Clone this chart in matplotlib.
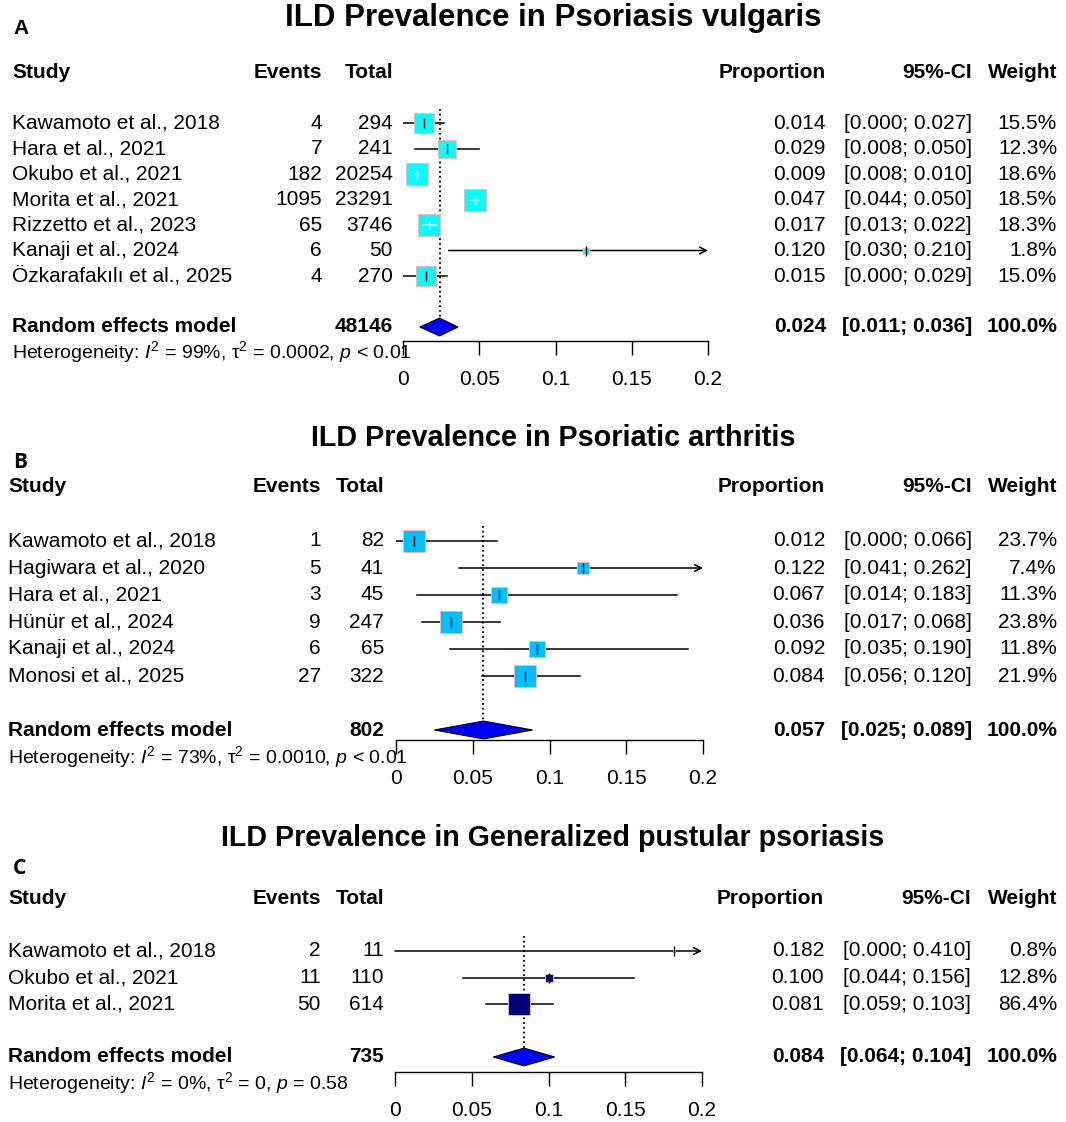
import matplotlib
matplotlib.use("Agg")
import matplotlib.pyplot as plt
import matplotlib.transforms as mtransforms
from matplotlib.patches import Polygon

plt.rcParams['font.family'] = ['Liberation Sans', 'DejaVu Sans']
plt.rcParams['mathtext.fontset'] = 'custom'
plt.rcParams['mathtext.rm'] = 'Liberation Sans'
plt.rcParams['mathtext.it'] = 'Liberation Sans:italic'
plt.rcParams['mathtext.bf'] = 'Liberation Sans:bold'

W, H = 1066, 1122

# ---- data ----
studies_a = ["Kawamoto et al., 2018", "Hara et al., 2021", "Okubo et al., 2021",
             "Morita et al., 2021", "Rizzetto et al., 2023", "Kanaji et al., 2024",
             "Özkarafakılı et al., 2025"]
events_a = [4, 7, 182, 1095, 65, 6, 4]
total_a = [294, 241, 20254, 23291, 3746, 50, 270]
prop_a = [0.014, 0.029, 0.009, 0.047, 0.017, 0.120, 0.015]
lower_a = [0.000, 0.008, 0.008, 0.044, 0.013, 0.030, 0.000]
upper_a = [0.027, 0.050, 0.010, 0.050, 0.022, 0.210, 0.029]
weight_a = [15.5, 12.3, 18.6, 18.5, 18.3, 1.8, 15.0]
pooled_a = (48146, 0.024, 0.011, 0.036)
het_a = ("99%", "0.0002", "< 0.01")

studies_b = ["Kawamoto et al., 2018", "Hagiwara et al., 2020", "Hara et al., 2021",
             "Hünür et al., 2024", "Kanaji et al., 2024", "Monosi et al., 2025"]
events_b = [1, 5, 3, 9, 6, 27]
total_b = [82, 41, 45, 247, 65, 322]
prop_b = [0.012, 0.122, 0.067, 0.036, 0.092, 0.084]
lower_b = [0.000, 0.041, 0.014, 0.017, 0.035, 0.056]
upper_b = [0.066, 0.262, 0.183, 0.068, 0.190, 0.120]
weight_b = [23.7, 7.4, 11.3, 23.8, 11.8, 21.9]
pooled_b = (802, 0.057, 0.025, 0.089)
het_b = ("73%", "0.0010", "< 0.01")

studies_c = ["Kawamoto et al., 2018", "Okubo et al., 2021", "Morita et al., 2021"]
events_c = [2, 11, 50]
total_c = [11, 110, 614]
prop_c = [0.182, 0.100, 0.081]
lower_c = [0.000, 0.044, 0.059]
upper_c = [0.410, 0.156, 0.103]
weight_c = [0.8, 12.8, 86.4]
pooled_c = (735, 0.084, 0.064, 0.104)
het_c = ("0%", "0", "= 0.58")

titles = ["ILD Prevalence in Psoriasis vulgaris",
          "ILD Prevalence in Psoriatic arthritis",
          "ILD Prevalence in Generalized pustular psoriasis"]
panel_labels = ["A", "B", "C"]
ticks = [0, 0.05, 0.1, 0.15, 0.2]
tick_labels = ["0", "0.05", "0.1", "0.15", "0.2"]

# ---- layout (pixels) ----
layouts = [
    dict(title_y=18, title_fs=22.5, label_y=28, label_font='Liberation Sans',
         row0=123, sp=25.5, axis_y=341, x0=403, x1=708,
         study_x=12, events_r=322, total_r=393, prop_r=826, ci_r=972, w_r=1057,
         color='#00FFFF'),
    dict(title_y=438, title_fs=20.7, label_y=463, label_font='Open Sans',
         row0=541, sp=27, axis_y=740, x0=396, x1=703,
         study_x=8, events_r=321, total_r=384, prop_r=825, ci_r=972, w_r=1057,
         color='#00BFFF'),
    dict(title_y=838, title_fs=20.6, label_y=868, label_font='Open Sans',
         row0=951, sp=26.5, axis_y=1072, x0=395, x1=702,
         study_x=8, events_r=321, total_r=384, prop_r=824, ci_r=971, w_r=1057,
         color='#000080'),
]

panels = [
    (studies_a, events_a, total_a, prop_a, lower_a, upper_a, weight_a, pooled_a, het_a),
    (studies_b, events_b, total_b, prop_b, lower_b, upper_b, weight_b, pooled_b, het_b),
    (studies_c, events_c, total_c, prop_c, lower_c, upper_c, weight_c, pooled_c, het_c),
]

FS = 15
MAX_SIDE_PX = 22

fig = plt.figure(figsize=(W / 100, H / 100), dpi=100)


def fx(px):
    return px / W


for k, (lay, data) in enumerate(zip(layouts, panels)):
    studies, events, totals, props, lows, highs, weights, pooled, het = data
    n = len(studies)
    row_top = -2.8
    row_bot = (lay['axis_y'] - lay['row0']) / lay['sp']
    top_px = lay['row0'] + row_top * lay['sp']
    ax = fig.add_axes([fx(lay['x0']), 1 - lay['axis_y'] / H,
                       fx(lay['x1'] - lay['x0']), (lay['axis_y'] - top_px) / H])
    ax.set_xlim(0, 0.2)
    ax.set_ylim(row_bot, row_top)
    for s in ['left', 'right', 'top']:
        ax.spines[s].set_visible(False)
    ax.spines['bottom'].set_linewidth(1.0)
    ax.set_yticks([])
    ax.set_xticks(ticks)
    ax.set_xticklabels(tick_labels)
    ax.tick_params(axis='x', direction='out', length=10, width=1.0, pad=11,
                   labelsize=FS)
    ax.patch.set_visible(False)

    tr = mtransforms.blended_transform_factory(fig.transFigure, ax.transData)
    px_per_unit = (lay['x1'] - lay['x0']) / 0.2
    wmax = max(weights)

    # title and panel label
    fig.text(fx(553), 1 - lay['title_y'] / H, titles[k], ha='center', va='center',
             fontsize=lay['title_fs'], fontweight='bold')
    fig.text(fx(13), 1 - lay['label_y'] / H, panel_labels[k], ha='left', va='center',
             fontsize=15, fontweight='bold', family=[lay['label_font'], 'DejaVu Sans'])

    # headers
    hy = -2
    ax.text(fx(lay['study_x']), hy, "Study", transform=tr, ha='left', va='center',
            fontsize=FS, fontweight='bold')
    ax.text(fx(lay['events_r']), hy, "Events", transform=tr, ha='right', va='center',
            fontsize=FS, fontweight='bold')
    ax.text(fx(lay['total_r']), hy, "Total", transform=tr, ha='right', va='center',
            fontsize=FS, fontweight='bold')
    ax.text(fx(lay['prop_r']), hy, "Proportion", transform=tr, ha='right', va='center',
            fontsize=FS, fontweight='bold')
    ax.text(fx(lay['ci_r']), hy, "95%-CI", transform=tr, ha='right', va='center',
            fontsize=FS, fontweight='bold')
    ax.text(fx(lay['w_r']), hy, "Weight", transform=tr, ha='right', va='center',
            fontsize=FS, fontweight='bold')

    # dotted pooled line
    ptot, pest, plo, phi = pooled
    dh = 0.35 * 25.5 / lay['sp']
    ax.plot([pest, pest], [-0.55, n + 1 - dh], linestyle=':', color='black', lw=1.3,
            zorder=1)

    for i in range(n):
        y = i
        side_px = MAX_SIDE_PX * (weights[i] / wmax) ** 0.5
        side_pt = side_px * 0.72
        inside = (highs[i] - lows[i]) * px_per_unit < side_px
        hi_clip = min(highs[i], 0.2)
        if highs[i] > 0.2:
            ax.annotate('', xy=(0.2, y), xytext=(lows[i], y),
                        arrowprops=dict(arrowstyle='->', lw=1.1, color='black',
                                        shrinkA=0, shrinkB=0, mutation_scale=12),
                        zorder=2)
        else:
            ax.plot([lows[i], hi_clip], [y, y], color='black', lw=1.1, zorder=2)
        ax.scatter([props[i]], [y], marker='s', s=side_pt ** 2, color=lay['color'],
                   edgecolors='#F2B8B8', linewidths=0.7, zorder=3)
        lc = 'white' if inside else 'black'
        if inside:
            ax.plot([lows[i], highs[i]], [y, y], color='white', lw=1.1, zorder=4)
        ax.plot([props[i]], [y], marker='|', markersize=6.5, mew=1.0, color=lc, zorder=5)

        ax.text(fx(lay['study_x']), y, studies[i], transform=tr, ha='left',
                va='center', fontsize=FS)
        ax.text(fx(lay['events_r']), y, f"{events[i]}", transform=tr, ha='right',
                va='center', fontsize=FS)
        ax.text(fx(lay['total_r']), y, f"{totals[i]}", transform=tr, ha='right',
                va='center', fontsize=FS)
        ax.text(fx(lay['prop_r']), y, f"{props[i]:.3f}", transform=tr, ha='right',
                va='center', fontsize=FS)
        ax.text(fx(lay['ci_r']), y, f"[{lows[i]:.3f}; {highs[i]:.3f}]", transform=tr,
                ha='right', va='center', fontsize=FS)
        ax.text(fx(lay['w_r']), y, f"{weights[i]:.1f}%", transform=tr, ha='right',
                va='center', fontsize=FS)

    # pooled diamond
    yr = n + 1
    diamond = Polygon([(plo, yr), (pest, yr - dh), (phi, yr), (pest, yr + dh)],
                      closed=True, facecolor='#0000FF', edgecolor='black', lw=0.8,
                      zorder=4)
    ax.add_patch(diamond)
    ax.text(fx(lay['study_x']), yr, "Random effects model", transform=tr, ha='left',
            va='center', fontsize=FS, fontweight='bold')
    ax.text(fx(lay['total_r']), yr, f"{ptot}", transform=tr, ha='right', va='center',
            fontsize=FS, fontweight='bold')
    ax.text(fx(lay['prop_r']), yr, f"{pest:.3f}", transform=tr, ha='right',
            va='center', fontsize=FS, fontweight='bold')
    ax.text(fx(lay['ci_r']), yr, f"[{plo:.3f}; {phi:.3f}]", transform=tr, ha='right',
            va='center', fontsize=FS, fontweight='bold')
    ax.text(fx(lay['w_r']), yr, "100.0%", transform=tr, ha='right', va='center',
            fontsize=FS, fontweight='bold')

    i2, tau2, pval = het
    ax.text(fx(lay['study_x']), n + 2,
            "Heterogeneity: $I^2$ = " + i2 + ", τ$^2$ = " + tau2 + ", $p$ " + pval,
            transform=tr, ha='left', va='center', fontsize=14, zorder=6)

fig.savefig("out.png", dpi=100)
